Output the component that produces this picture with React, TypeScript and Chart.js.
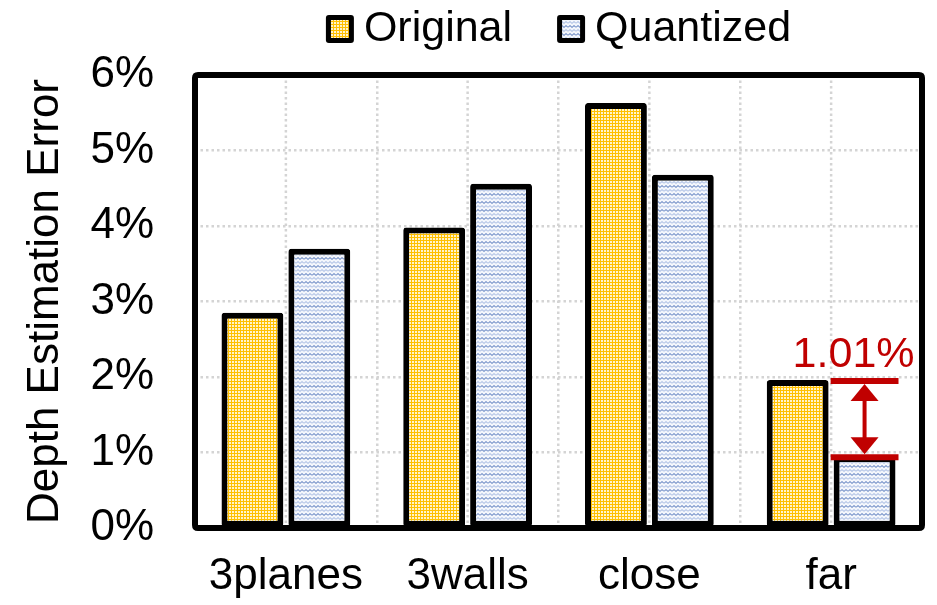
import React, { useEffect, useRef } from "react";
import { Chart, registerables } from "chart.js";

Chart.register(...registerables);

const categories = ["3planes", "3walls", "close", "far"];
const originalValues = [2.85, 3.98, 5.63, 1.96];
const quantizedValues = [3.7, 4.56, 4.68, 0.95];
const seriesNames = ["Original", "Quantized"];
const yTicks = [0, 1, 2, 3, 4, 5, 6];
const annotatedIndex = 3;

const FONT = "'Liberation Sans', Arial, sans-serif";

function makeGridPattern(ctx: CanvasRenderingContext2D) {
  const c = document.createElement("canvas");
  c.width = 3;
  c.height = 3;
  const g = c.getContext("2d")!;
  g.fillStyle = "#FFF4CC";
  g.fillRect(0, 0, 3, 3);
  g.fillStyle = "#FFC000";
  g.fillRect(0, 0, 3, 1);
  g.fillRect(0, 0, 1, 3);
  return ctx.createPattern(c, "repeat")!;
}

function makeWavePattern(ctx: CanvasRenderingContext2D) {
  const c = document.createElement("canvas");
  c.width = 8;
  c.height = 8;
  const g = c.getContext("2d")!;
  g.fillStyle = "#F3F6FC";
  g.fillRect(0, 0, 8, 8);
  g.lineWidth = 1;
  const wave = (y0: number, color: string) => {
    g.strokeStyle = color;
    g.beginPath();
    g.moveTo(0, y0 + 2);
    g.lineTo(2, y0);
    g.lineTo(4, y0 + 2);
    g.lineTo(6, y0);
    g.lineTo(8, y0 + 2);
    g.stroke();
  };
  wave(1.5, "#3A62B0");
  wave(5.5, "#94ACDB");
  return ctx.createPattern(c, "repeat")!;
}

function roundRect(ctx: CanvasRenderingContext2D, x: number, y: number, w: number, h: number, r: number) {
  ctx.beginPath();
  ctx.moveTo(x + r, y);
  ctx.lineTo(x + w - r, y);
  ctx.quadraticCurveTo(x + w, y, x + w, y + r);
  ctx.lineTo(x + w, y + h - r);
  ctx.quadraticCurveTo(x + w, y + h, x + w - r, y + h);
  ctx.lineTo(x + r, y + h);
  ctx.quadraticCurveTo(x, y + h, x, y + h - r);
  ctx.lineTo(x, y + r);
  ctx.quadraticCurveTo(x, y, x + r, y);
  ctx.closePath();
}

const decorPlugin = {
  id: "decor",
  beforeDatasetsDraw(chart: any) {
    const { ctx, chartArea, scales } = chart;
    const x = scales.x;
    ctx.save();
    ctx.strokeStyle = "#D4D4D4";
    ctx.lineWidth = 2.5;
    ctx.setLineDash([2.5, 3]);
    categories.forEach((_, i) => {
      const px = x.getPixelForValue(i);
      ctx.beginPath();
      ctx.moveTo(px, chartArea.top);
      ctx.lineTo(px, chartArea.bottom);
      ctx.stroke();
    });
    ctx.restore();
  },
  afterDatasetsDraw(chart: any) {
    const { ctx, chartArea, scales } = chart;
    const y = scales.y;
    // plot border
    ctx.save();
    ctx.strokeStyle = "#000";
    ctx.lineWidth = 6;
    roundRect(ctx, chartArea.left, chartArea.top, chartArea.right - chartArea.left, chartArea.bottom - chartArea.top, 3);
    ctx.stroke();
    ctx.restore();

    // annotation
    const bar = chart.getDatasetMeta(1).data[annotatedIndex] as any;
    const hi = originalValues[annotatedIndex];
    const lo = quantizedValues[annotatedIndex];
    const yHi = y.getPixelForValue(hi);
    const yLo = y.getPixelForValue(lo);
    const left = bar.x - bar.width / 2 - 3;
    const right = bar.x + bar.width / 2 + 3;
    const red = "#C00000";
    ctx.save();
    ctx.strokeStyle = red;
    ctx.fillStyle = red;
    ctx.lineWidth = 6;
    ctx.beginPath();
    ctx.moveTo(left, yHi + 1);
    ctx.lineTo(right, yHi + 1);
    ctx.moveTo(left, yLo + 1);
    ctx.lineTo(right, yLo + 1);
    ctx.stroke();
    ctx.lineWidth = 4;
    ctx.beginPath();
    ctx.moveTo(bar.x, yHi + 15);
    ctx.lineTo(bar.x, yLo - 15);
    ctx.stroke();
    ctx.beginPath();
    ctx.moveTo(bar.x, yHi + 4);
    ctx.lineTo(bar.x - 14, yHi + 21);
    ctx.lineTo(bar.x + 14, yHi + 21);
    ctx.closePath();
    ctx.fill();
    ctx.beginPath();
    ctx.moveTo(bar.x, yLo - 2);
    ctx.lineTo(bar.x - 14, yLo - 19);
    ctx.lineTo(bar.x + 14, yLo - 19);
    ctx.closePath();
    ctx.fill();
    ctx.font = `43px ${FONT}`;
    ctx.textAlign = "center";
    ctx.textBaseline = "alphabetic";
    ctx.fillText((hi - lo).toFixed(2) + "%", bar.x - 11, yHi - 13);
    ctx.restore();

    // legend
    ctx.save();
    ctx.font = `43px ${FONT}`;
    const box = 28;
    const gap = 10;
    const itemGap = 45;
    const widths = seriesNames.map((n) => box + gap + ctx.measureText(n).width);
    const total = widths.reduce((a, b) => a + b, 0) + itemGap * (seriesNames.length - 1);
    let lx = (chartArea.left + chartArea.right) / 2 - total / 2;
    const cy = 29;
    seriesNames.forEach((name, i) => {
      const ds = chart.data.datasets[i];
      ctx.fillStyle = "#000";
      roundRect(ctx, lx, cy - box / 2, box, box, 3);
      ctx.fill();
      ctx.fillStyle = ds.backgroundColor;
      ctx.fillRect(lx + 5, cy - box / 2 + 5, box - 10, box - 10);
      ctx.fillStyle = "#000";
      ctx.textAlign = "left";
      ctx.textBaseline = "middle";
      ctx.fillText(name, lx + box + gap, cy);
      lx += widths[i] + itemGap;
    });
    ctx.restore();
  },
};

export default function App() {
  const ref = useRef<HTMLCanvasElement>(null);
  useEffect(() => {
    document.body.style.margin = "0";
    const canvas = ref.current!;
    const ctx = canvas.getContext("2d")!;
    const orangePattern = makeGridPattern(ctx);
    const bluePattern = makeWavePattern(ctx);
    const chart = new Chart(canvas, {
      type: "bar",
      data: {
        labels: categories,
        datasets: [
          {
            label: seriesNames[0],
            data: originalValues,
            backgroundColor: orangePattern as any,
            borderColor: "#000",
            borderWidth: 6,
            borderRadius: 3,
            borderSkipped: false,
          },
          {
            label: seriesNames[1],
            data: quantizedValues,
            backgroundColor: bluePattern as any,
            borderColor: "#000",
            borderWidth: 6,
            borderRadius: 3,
            borderSkipped: false,
          },
        ],
      },
      options: {
        animation: false,
        responsive: false,
        devicePixelRatio: 1,
        layout: { padding: { left: 0, right: 15, top: 75, bottom: 0 } },
        plugins: {
          legend: { display: false },
          tooltip: { enabled: false },
        },
        datasets: {
          bar: { categoryPercentage: 0.736, barPercentage: 0.925 },
        },
        scales: {
          x: {
            grid: {
              offset: true,
              color: "#D4D4D4",
              lineWidth: 2.5,
              drawTicks: false,
            },
            border: { display: false, dash: [2.5, 3] },
            ticks: {
              color: "#000",
              font: { family: FONT, size: 44 },
              padding: 22,
              maxRotation: 0,
            },
            afterFit(axis: any) {
              axis.height = 77;
            },
          },
          y: {
            min: 0,
            max: 6,
            afterBuildTicks(axis: any) {
              axis.ticks = yTicks.map((v) => ({ value: v }));
            },
            grid: {
              color: "#D4D4D4",
              lineWidth: 2.5,
              drawTicks: false,
            },
            border: { display: false, dash: [2.5, 3] },
            ticks: {
              color: "#000",
              font: { family: FONT, size: 44 },
              padding: 41,
              callback: (v: any) => v + "%",
            },
            title: {
              display: true,
              text: "Depth Estimation Error",
              color: "#000",
              font: { family: FONT, size: 44 },
              padding: { top: 19, bottom: 0 },
            },
            afterFit(axis: any) {
              axis.width = 195;
            },
          },
        },
      },
      plugins: [decorPlugin],
    });
    return () => chart.destroy();
  }, []);
  return <canvas ref={ref} width={937} height={605} style={{ display: "block" }} />;
}
